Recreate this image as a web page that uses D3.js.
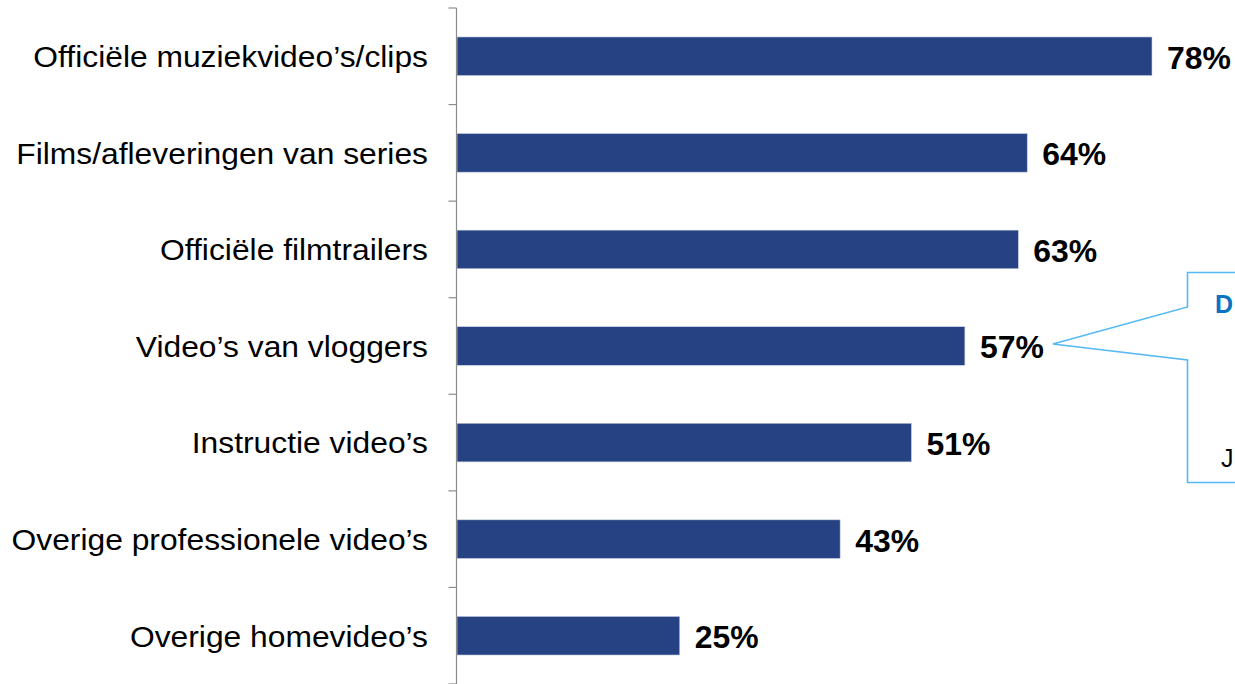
<!DOCTYPE html>
<html>
<head>
<meta charset="utf-8">
<script src="https://cdn.jsdelivr.net/npm/d3@7"></script>
<style>
  html, body { margin: 0; padding: 0; background: #fff; }
  svg { display: block; }
</style>
</head>
<body>
<svg id="chart" width="1235" height="684"></svg>
<script>
// Video types watched (share of respondents)
const categories = [
  "Officiële muziekvideo’s/clips",
  "Films/afleveringen van series",
  "Officiële filmtrailers",
  "Video’s van vloggers",
  "Instructie video’s",
  "Overige professionele video’s",
  "Overige homevideo’s"
];
const values = [78, 64, 63, 57, 51, 43, 25];
const valueLabels = ["78%", "64%", "63%", "57%", "51%", "43%", "25%"];

const svg = d3.select("#chart");
const font = "Liberation Sans, Arial, sans-serif";

const axisX = 456.5;
const x = d3.scaleLinear().domain([0, 78]).range([457, 1152]);
const y = d3.scaleBand().domain(categories).range([8, 684]).paddingInner(0.6).paddingOuter(0.3);
const yEdges = d3.scaleLinear().domain([0, categories.length]).range([8, 684]);

// bars
svg.selectAll("rect.bar")
  .data(categories)
  .join("rect")
  .attr("class", "bar")
  .attr("x", x(0))
  .attr("y", d => y(d))
  .attr("width", (d, i) => x(values[i]) - x(0))
  .attr("height", y.bandwidth())
  .attr("fill", "#264282")
  .attr("stroke", "#c9d3e6")
  .attr("stroke-width", 0.6);

// category axis line and tick marks between categories
const axisG = svg.append("g");
axisG.append("line")
  .attr("x1", axisX).attr("x2", axisX)
  .attr("y1", yEdges(0)).attr("y2", yEdges(categories.length))
  .attr("stroke", "#8c8c8c").attr("stroke-width", 1.2);
axisG.selectAll("line.tick")
  .data(d3.range(categories.length + 1))
  .join("line")
  .attr("class", "tick")
  .attr("x1", axisX - 8).attr("x2", axisX)
  .attr("y1", d => yEdges(d)).attr("y2", d => yEdges(d))
  .attr("stroke", "#8c8c8c").attr("stroke-width", 1.2);

// category labels (slightly widened type)
svg.selectAll("text.cat")
  .data(categories)
  .join("text")
  .attr("class", "cat")
  .attr("transform", d => `translate(428,${y(d) + y.bandwidth() / 2}) scale(1.06,1)`)
  .attr("dy", "0.36em")
  .attr("text-anchor", "end")
  .attr("font-family", font)
  .attr("font-size", 30)
  .attr("fill", "#000")
  .text(d => d);

// value labels
svg.selectAll("text.val")
  .data(categories)
  .join("text")
  .attr("class", "val")
  .attr("transform", (d, i) => `translate(${x(values[i]) + 15},${y(d) + y.bandwidth() / 2}) scale(1.03,1)`)
  .attr("dy", "0.4em")
  .attr("font-family", font)
  .attr("font-size", 31)
  .attr("font-weight", "bold")
  .attr("fill", "#000")
  .text((d, i) => valueLabels[i]);

// callout box pointing at the vlogger bar
const tipX = x(values[3]) + 88, tipY = y(categories[3]) + y.bandwidth() / 2 - 2;
const boxL = 1187.5, boxT = 272.5, boxB = 482.5, boxR = 1300;
svg.append("path")
  .attr("d", `M${boxL},${boxT} L${boxR},${boxT} L${boxR},${boxB} L${boxL},${boxB} L${boxL},360 L${tipX},${tipY} L${boxL},307 Z`)
  .attr("fill", "#fff")
  .attr("stroke", "#55b9f3")
  .attr("stroke-width", 1.6);
svg.append("text")
  .attr("x", 1215).attr("y", 313)
  .attr("font-family", font).attr("font-size", 25).attr("font-weight", "bold")
  .attr("fill", "#0a73c2")
  .text("D");
svg.append("text")
  .attr("x", 1221).attr("y", 467)
  .attr("font-family", font).attr("font-size", 25)
  .attr("fill", "#000")
  .text("J");
</script>
</body>
</html>
